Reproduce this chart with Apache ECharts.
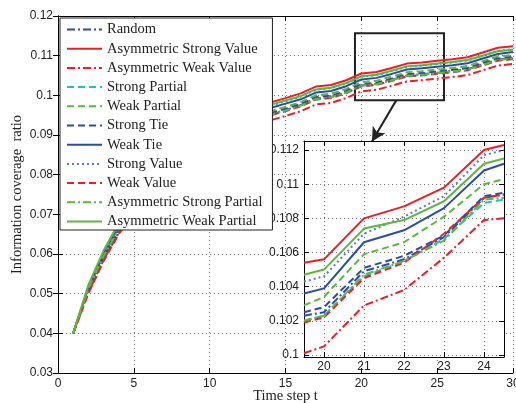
<!DOCTYPE html>
<html><head><meta charset="utf-8">
<script src="https://cdn.jsdelivr.net/npm/echarts@6/dist/echarts.min.js"></script>
<style>html,body{margin:0;padding:0;background:#fff}#c{width:516px;height:403px}</style>
</head><body><div id="c"></div>
<script>
// ---- data ----
const tSteps = [1,2,3,4,5,6,7,8,9,10,11,12,13,14,15,16,17,18,19,20,21,22,23,24,25,26,27,28,29,30];
const seriesNames = ['Random','Asymmetric Strong Value','Asymmetric Weak Value','Strong Partial','Weak Partial','Strong Tie','Weak Tie','Strong Value','Weak Value','Asymmetric Strong Partial','Asymmetric Weak Partial'];
const xTicksMain = [0,5,10,15,20,25,30];
const yTicksMain = [0.03,0.04,0.05,0.06,0.07,0.08,0.09,0.1,0.11,0.12];

const random            = [.040,.0506,.0588,.0655,.0708,.0752,.0792,.0825,.0855,.0880,.0900,.0920,.0938,.0952,.0963,.0975,.0992,.0996,.1008,.1025,.1029,.1039,.1050,.1053,.1057,.1061,.1066,.1078,.1090,.1094];
const asymStrongValue   = [.040,.0515,.0600,.0670,.0730,.0780,.0820,.0855,.0885,.0910,.0930,.0950,.0968,.0982,.0993,.1005,.1022,.1026,.1038,.1055,.1059,.1069,.1080,.1083,.1087,.1091,.1096,.1108,.1120,.1124];
const asymWeakValue     = [.040,.0503,.0585,.0652,.0702,.0745,.0780,.0812,.0840,.0865,.0885,.0905,.0923,.0937,.0948,.0960,.0977,.0981,.0993,.1010,.1014,.1024,.1035,.1038,.1042,.1046,.1051,.1063,.1075,.1079];
const strongPartial     = [.040,.0507,.0589,.0656,.0708,.0751,.0789,.0822,.0852,.0877,.0897,.0917,.0935,.0949,.0960,.0972,.0989,.0993,.1005,.1022,.1026,.1036,.1047,.1050,.1054,.1058,.1063,.1075,.1087,.1091];
const weakPartial       = [.040,.0510,.0592,.0660,.0714,.0760,.0800,.0833,.0863,.0888,.0908,.0928,.0946,.0960,.0971,.0983,.1000,.1004,.1016,.1033,.1037,.1047,.1058,.1061,.1065,.1069,.1074,.1086,.1098,.1102];
const strongTie         = [.040,.0508,.0590,.0657,.0710,.0755,.0795,.0828,.0858,.0883,.0903,.0923,.0941,.0955,.0966,.0978,.0995,.0999,.1011,.1028,.1032,.1042,.1053,.1056,.1060,.1064,.1069,.1081,.1093,.1097];
const weakTie           = [.040,.0515,.0598,.0668,.0722,.0768,.0807,.0840,.0870,.0895,.0915,.0935,.0953,.0968,.0979,.0990,.1007,.1011,.1023,.1040,.1044,.1054,.1065,.1068,.1072,.1076,.1081,.1093,.1104,.1109];
const strongValue       = [.040,.0515,.0600,.0670,.0724,.0772,.0812,.0846,.0876,.0901,.0921,.0941,.0959,.0974,.0985,.0997,.1014,.1018,.1030,.1047,.1051,.1061,.1072,.1075,.1079,.1083,.1088,.1100,.1112,.1116];
const weakValue         = [.040,.0500,.0582,.0650,.0705,.0750,.0790,.0823,.0853,.0878,.0898,.0918,.0936,.0950,.0961,.0973,.0990,.0994,.1006,.1023,.1027,.1037,.1048,.1051,.1055,.1059,.1064,.1076,.1088,.1092];
const asymStrongPartial = [.040,.0512,.0594,.0662,.0712,.0754,.0791,.0824,.0854,.0879,.0899,.0919,.0937,.0951,.0962,.0974,.0991,.0995,.1007,.1024,.1028,.1038,.1049,.1052,.1056,.1060,.1065,.1077,.1089,.1093];
const asymWeakPartial   = [.040,.0522,.0608,.0678,.0730,.0776,.0815,.0848,.0878,.0903,.0923,.0943,.0961,.0976,.0987,.0998,.1015,.1019,.1031,.1048,.1052,.1062,.1073,.1076,.1080,.1084,.1089,.1100,.1111,.1115];

// inset (zoomed view)
const insetSteps = [19.5,20,21,22,23,24,24.5];
const zRandom            = [.1023,.1025,.1049,.1056,.1069,.1092,.1094];
const zAsymStrongValue   = [.1054,.1056,.1080,.1087,.1098,.1120,.1123];
const zAsymWeakValue     = [.1001,.1005,.1029,.1038,.1057,.1079,.1080];
const zStrongPartial     = [.1020,.1023,.1046,.1055,.1068,.1089,.1091];
const zWeakPartial       = [.1029,.1034,.1059,.1066,.1081,.1100,.1103];
const zStrongTie         = [.1025,.1028,.1051,.1058,.1070,.1093,.1095];
const zWeakTie           = [.1036,.1039,.1066,.1073,.1086,.1108,.1112];
const zStrongValue       = [.1043,.1046,.1071,.1081,.1093,.1117,.1120];
const zWeakValue         = [.1019,.1022,.1045,.1054,.1071,.1092,.1094];
const zAsymStrongPartial = [.1020,.1023,.1047,.1055,.1067,.1091,.1092];
const zAsymWeakPartial   = [.1047,.1050,.1074,.1079,.1090,.1112,.1115];

// zoom box and arrow (data coordinates of main axes)
const zoomBox = [[19.58, 0.11562], [25.45, 0.09873]];
const arrowFrom = [22.3, 0.09873];
const arrowTo = [20.7, 0.08835];

// ---- styles ----
const RED='#ee1c24', GREEN='#5cb83c', BLUE='#2a4ea6', CYAN='#1fbfc9', LBLUE='#5a78d8';
const DASHDOT=[8,3,2,3], DASH=[7,4], DOT=[2,3];
const styles = [
  {color:BLUE, type:DASHDOT},
  {color:RED, type:'solid'},
  {color:RED, type:DASHDOT},
  {color:CYAN, type:DASH},
  {color:GREEN, type:DASH},
  {color:BLUE, type:DASH},
  {color:BLUE, type:'solid'},
  {color:LBLUE, type:DOT},
  {color:RED, type:DASH},
  {color:GREEN, type:DASHDOT},
  {color:GREEN, type:'solid'}
];
const mainData = [random,asymStrongValue,asymWeakValue,strongPartial,weakPartial,strongTie,weakTie,strongValue,weakValue,asymStrongPartial,asymWeakPartial];
const zoomData = [zRandom,zAsymStrongValue,zAsymWeakValue,zStrongPartial,zWeakPartial,zStrongTie,zWeakTie,zStrongValue,zWeakValue,zAsymStrongPartial,zAsymWeakPartial];

const SANS='Liberation Sans, Arial, sans-serif', SERIF='Liberation Serif, Times New Roman, serif';
const series = [];
seriesNames.forEach((n,i)=>{
  const s = {
    name:n, type:'line', xAxisIndex:0, yAxisIndex:0, symbol:'none', z:2,
    data: tSteps.map((t,k)=>[t, mainData[i][k]]),
    lineStyle:{color:styles[i].color, type:styles[i].type, width:2},
    itemStyle:{color:styles[i].color}, animation:false
  };
  if(i===0){
    s.markArea = {silent:true, itemStyle:{color:'rgba(0,0,0,0)', borderColor:'#222', borderWidth:2},
      data:[[{coord:zoomBox[0]},{coord:zoomBox[1]}]]};
    s.markLine = {silent:true, symbol:['none','arrow'], symbolSize:[11,14], label:{show:false},
      lineStyle:{color:'#222', type:'solid', width:2},
      data:[[{coord:arrowFrom},{coord:arrowTo}]]};
  }
  series.push(s);
});
seriesNames.forEach((n,i)=>{
  series.push({
    name:n, type:'line', xAxisIndex:2, yAxisIndex:2, symbol:'none', z:8,
    data: insetSteps.map((t,k)=>[t, zoomData[i][k]]),
    lineStyle:{color:styles[i].color, type:styles[i].type, width:2},
    itemStyle:{color:styles[i].color}, animation:false
  });
});

const tickIn = {show:true, inside:true, length:5, lineStyle:{color:'#000'}};
const axLine = {show:true, lineStyle:{color:'#000', width:1}};
const dotted = {show:true, lineStyle:{color:'#777', type:[1,3], width:1}};
const lbl = {color:'#222', fontFamily:SANS, fontSize:12};

const option = {
  animation:false,
  backgroundColor:'#fff',
  grid:[
    {left:58, right:3, top:16, bottom:30, show:true, backgroundColor:'#fff', borderWidth:0, z:0, outerBoundsMode:'none', containLabel:false},
    {left:304, right:12, top:141, bottom:46, show:true, backgroundColor:'#fff', borderWidth:0, z:5, outerBoundsMode:'none', containLabel:false}
  ],
  xAxis:[
    {type:'value', gridIndex:0, min:xTicksMain[0], max:xTicksMain[xTicksMain.length-1], interval:xTicksMain[1]-xTicksMain[0],
     axisLine:axLine, axisTick:tickIn, splitLine:dotted, axisLabel:Object.assign({margin:5},lbl),
     name:'Time step t', nameLocation:'middle', nameGap:16, nameMoveOverlap:false, nameTextStyle:{fontFamily:SERIF, fontSize:14.5, color:'#222'}},
    {type:'value', gridIndex:0, position:'top', min:xTicksMain[0], max:xTicksMain[xTicksMain.length-1], interval:xTicksMain[1]-xTicksMain[0],
     axisLine:axLine, axisTick:tickIn, splitLine:{show:false}, axisLabel:{show:false}},
    {type:'value', gridIndex:1, min:19.5, max:24.5, splitNumber:5, z:6,
     axisLine:axLine, axisTick:tickIn, splitLine:dotted, axisLabel:Object.assign({margin:4, showMinLabel:false, showMaxLabel:false},lbl)},
    {type:'value', gridIndex:1, position:'top', min:19.5, max:24.5, splitNumber:5, z:6,
     axisLine:axLine, axisTick:tickIn, splitLine:{show:false}, axisLabel:{show:false}}
  ],
  yAxis:[
    {type:'value', gridIndex:0, min:yTicksMain[0], max:yTicksMain[yTicksMain.length-1], interval:0.01,
     axisLine:axLine, axisTick:tickIn, splitLine:dotted, axisLabel:Object.assign({margin:5},lbl),
     name:'Information coverage  ratio', nameLocation:'middle', nameGap:33, nameMoveOverlap:false, nameTextStyle:{fontFamily:SERIF, fontSize:14.5, color:'#222'}},
    {type:'value', gridIndex:0, position:'right', min:yTicksMain[0], max:yTicksMain[yTicksMain.length-1], interval:0.01,
     axisLine:axLine, axisTick:tickIn, splitLine:{show:false}, axisLabel:{show:false}},
    {type:'value', gridIndex:1, min:0.09988, max:0.11253, splitNumber:6, z:6,
     axisLine:axLine, axisTick:tickIn, splitLine:dotted, axisLabel:Object.assign({margin:5, showMinLabel:false, showMaxLabel:false},lbl)},
    {type:'value', gridIndex:1, position:'right', min:0.09988, max:0.11253, splitNumber:6, z:6,
     axisLine:axLine, axisTick:tickIn, splitLine:{show:false}, axisLabel:{show:false}}
  ],
  legend:{
    data:seriesNames, orient:'vertical', left:60, top:18, z:10,
    itemWidth:35, itemHeight:14, itemGap:4.2, padding:[4,10,1,6],
    backgroundColor:'#fff', borderColor:'#222', borderWidth:1,
    itemStyle:{opacity:0},
    textStyle:{fontFamily:SERIF, fontSize:14.5, color:'#222'}
  },
  series:series
};
const chart = echarts.init(document.getElementById('c'), null, {renderer:'canvas'});
chart.setOption(option);
</script></body></html>
